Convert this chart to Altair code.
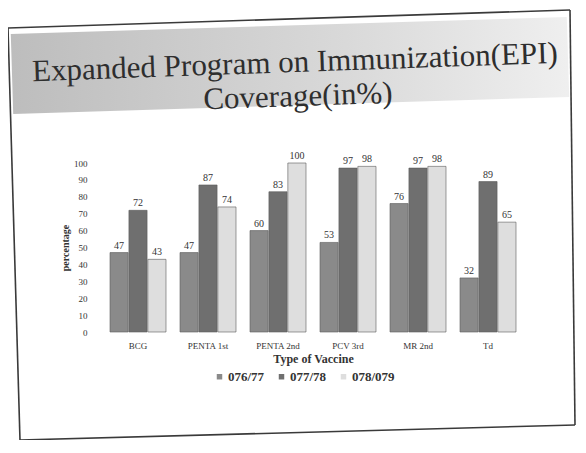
import altair as alt
import pandas as pd

categories = ["BCG", "PENTA 1st", "PENTA 2nd", "PCV 3rd", "MR 2nd", "Td"]
series = ["076/77", "077/78", "078/079"]
v_07677 = [47, 47, 60, 53, 76, 32]
v_07778 = [72, 87, 83, 97, 97, 89]
v_078079 = [43, 74, 100, 98, 98, 65]
y_ticks = [0, 10, 20, 30, 40, 50, 60, 70, 80, 90, 100]
title_lines = ["Expanded Program on Immunization(EPI)", "Coverage(in%)"]

rows = []
for s, vals in zip(series, [v_07677, v_07778, v_078079]):
    for c, v in zip(categories, vals):
        rows.append({"vaccine": c, "year": s, "value": v})
df = pd.DataFrame(rows)

SERIF = "Liberation Serif, Times New Roman, serif"
W, H = 420, 169

x_enc = alt.X("vaccine:N", sort=categories,
              scale=alt.Scale(paddingInner=0.2, paddingOuter=0.1),
              axis=alt.Axis(title="Type of Vaccine", labelAngle=0, labelFont=SERIF,
                            labelFontSize=9, labelColor="#333", domain=False, ticks=False,
                            labelPadding=9, titleFont=SERIF, titleFontSize=12,
                            titleFontWeight="bold", titleColor="#333", titlePadding=3))
y_enc = alt.Y("value:Q", scale=alt.Scale(domain=[0, 100]),
              axis=alt.Axis(title="percentage", values=y_ticks, grid=False, domain=False,
                            ticks=False, labelPadding=16, labelFont=SERIF, labelFontSize=9,
                            labelColor="#333", titleFont=SERIF, titleFontSize=10,
                            titleFontWeight="bold", titleColor="#333", titlePadding=3))
color_enc = alt.Color("year:N", sort=series,
                      scale=alt.Scale(domain=series, range=["#8a8a8a", "#6f6f6f", "#dedede"]),
                      legend=alt.Legend(title=None, orient="none", legendX=110, legendY=207,
                                        direction="horizontal",
                                        labelFont=SERIF, labelFontSize=13, labelFontWeight="bold",
                                        labelColor="#333", symbolType="square", symbolSize=30,
                                        symbolStrokeWidth=0, columnPadding=10, labelOffset=2))
xoff = alt.XOffset("year:N", sort=series, scale=alt.Scale(paddingInner=0.04))

base = alt.Chart(df)
bars = base.mark_bar(stroke="#5a5a5a", strokeWidth=0.6).encode(
    x=x_enc, y=y_enc, color=color_enc, xOffset=xoff)
labels = base.mark_text(dy=-7, font=SERIF, fontSize=10, color="#333").encode(
    x=x_enc, y=y_enc, xOffset=xoff, text="value:Q")

deco = alt.Chart(pd.DataFrame({"d": [0]}))
band = deco.mark_rule(
    strokeWidth=80, strokeCap="butt",
    color=alt.LinearGradient(gradient="linear", x1=0, y1=0, x2=1, y2=0,
                             stops=[alt.GradientStop(color="#bdbdbd", offset=0),
                                    alt.GradientStop(color="#d9d9d9", offset=0.6),
                                    alt.GradientStop(color="#efefef", offset=1)])
).encode(x=alt.value(-91), y=alt.value(-89), x2=alt.value(465), y2=alt.value(-106))

border_pts = [(-95, -135), (467, -153), (472, 262), (-83, 277)]
border = []
for i in range(4):
    (ax, ay), (bx, by) = border_pts[i], border_pts[(i + 1) % 4]
    border.append(deco.mark_rule(color="#3a3a3a", strokeWidth=1.6).encode(
        x=alt.value(ax), y=alt.value(ay), x2=alt.value(bx), y2=alt.value(by)))

t1 = deco.mark_text(font=SERIF, fontSize=31, color="#2e2e2e", angle=358,
                    align="center", baseline="middle").encode(
    x=alt.value(192), y=alt.value(-100), text=alt.value(title_lines[0]))
t2 = deco.mark_text(font=SERIF, fontSize=31, color="#2e2e2e", angle=358,
                    align="center", baseline="middle").encode(
    x=alt.value(195), y=alt.value(-66), text=alt.value(title_lines[1]))

chart = alt.layer(band, *border, t1, t2, bars, labels).properties(
    width=W, height=H,
    autosize=alt.AutoSizeParams(type="none"),
    padding={"left": 95, "top": 155, "right": 55, "bottom": 108},
    background="white",
).configure_view(stroke=None)

chart.save("out.html", embed_options={"renderer": "svg", "actions": False})
